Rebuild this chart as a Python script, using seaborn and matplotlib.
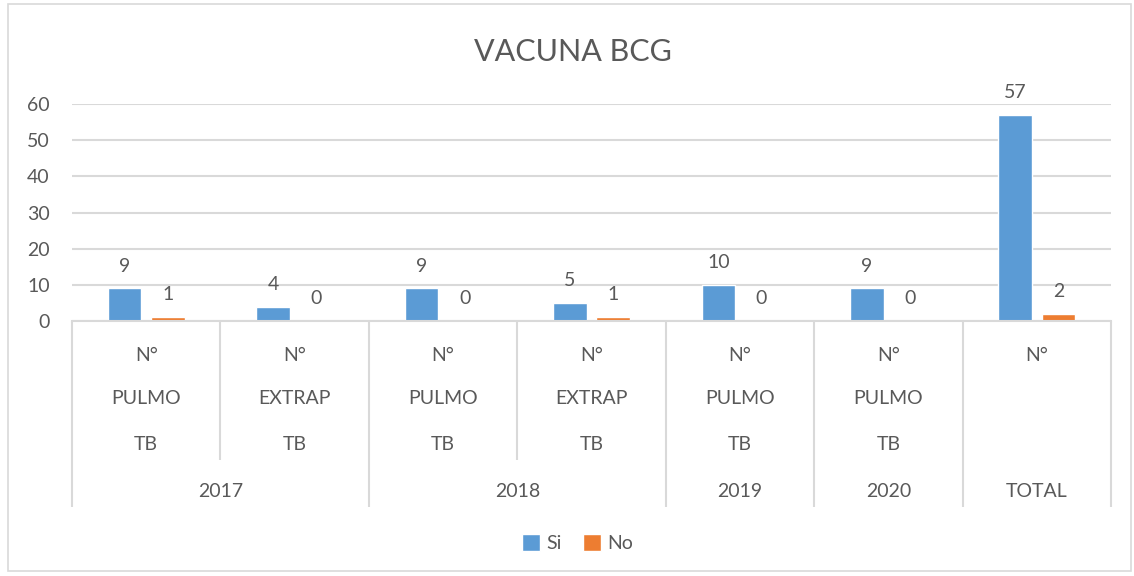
import matplotlib
matplotlib.use("Agg")
import matplotlib.pyplot as plt
import pandas as pd
import seaborn as sns
from matplotlib.patches import Rectangle

# data
years = ["2017", "2017", "2018", "2018", "2019", "2020", "TOTAL"]
kinds = ["N°\nPULMO\nTB", "N°\nEXTRAP\nTB", "N°\nPULMO\nTB", "N°\nEXTRAP\nTB",
         "N°\nPULMO\nTB", "N°\nPULMO\nTB", "N°"]
si_values = [9, 4, 9, 5, 10, 9, 57]
no_values = [1, 0, 0, 1, 0, 0, 2]
series = ["Si", "No"]
colors = ["#5B9BD5", "#ED7D31"]
yticks = [0, 10, 20, 30, 40, 50, 60]

TEXT = "#595959"
GRID = "#D9D9D9"

keys = [f"{i}" for i in range(len(years))]
df = pd.DataFrame({
    "key": keys * 2,
    "serie": ["Si"] * len(keys) + ["No"] * len(keys),
    "value": si_values + no_values,
})

sns.set_theme(style="white")
plt.rcParams["font.family"] = ["Lato", "DejaVu Sans"]

fig = plt.figure(figsize=(11.34, 5.76), dpi=100)
ax = fig.add_axes([0.0635, 0.4427, 0.9162, 0.3767])

sns.barplot(data=df, x="key", y="value", hue="serie", order=keys,
            hue_order=series, palette=colors, width=0.58, gap=0.22,
            saturation=1, ax=ax, legend=True)

for cont in ax.containers:
    ax.bar_label(cont, fmt="%g", padding=10, fontsize=14, color=TEXT)

ax.set_ylim(0, 60)
ax.set_xlim(-0.5, len(keys) - 0.5)
ax.set_yticks(yticks)
ax.yaxis.grid(True, color=GRID, linewidth=1.5)
ax.set_axisbelow(True)
ax.tick_params(axis="y", length=0, pad=16, labelsize=14, labelcolor=TEXT)
ax.set_xticks([])
ax.set_xlabel("")
ax.set_ylabel("")
for s in ["top", "right", "left"]:
    ax.spines[s].set_visible(False)
ax.spines["bottom"].set_color(GRID)
ax.spines["bottom"].set_linewidth(1.5)

# title is centred on the whole chart area, not on the plot area
fig.text(0.505, 0.909, "VACUNA BCG", ha="center", va="center",
         fontsize=22, color=TEXT)

# multi-level category axis
trans = ax.get_xaxis_transform()
row_y = [-0.161, -0.355, -0.571]
for i, kind in enumerate(kinds):
    for r, part in enumerate(kind.split("\n")):
        ax.text(i, row_y[r], part, transform=trans, ha="center", va="center",
                fontsize=14, color=TEXT, clip_on=False)

# group spans from the year list
groups = []
for i, yr in enumerate(years):
    if groups and groups[-1][0] == yr:
        groups[-1][2] = i
    else:
        groups.append([yr, i, i])
for yr, a, b in groups:
    ax.text((a + b) / 2, -0.788, yr, transform=trans, ha="center", va="center",
            fontsize=14, color=TEXT, clip_on=False)

group_edges = {a - 0.5 for _, a, _ in groups} | {b + 0.5 for _, _, b in groups}
for k in range(len(keys) + 1):
    x = k - 0.5
    bottom = -0.857 if x in group_edges else -0.641
    ax.plot([x, x], [0, bottom], transform=trans, color=GRID, linewidth=1.5,
            clip_on=False, solid_capstyle="butt")

handles, labels = ax.get_legend_handles_labels()
ax.get_legend().remove()
fig.legend(handles, labels, loc="center", bbox_to_anchor=(0.509, 0.057),
           ncol=2, frameon=False, fontsize=14, labelcolor=TEXT,
           handlelength=0.95, handleheight=1.0, handletextpad=0.3,
           columnspacing=1.1)

fig.patches.append(Rectangle((0.007, 0.008), 0.99, 0.985, transform=fig.transFigure,
                             fill=False, edgecolor=GRID, linewidth=1.2))

fig.savefig("out.png", dpi=100)
